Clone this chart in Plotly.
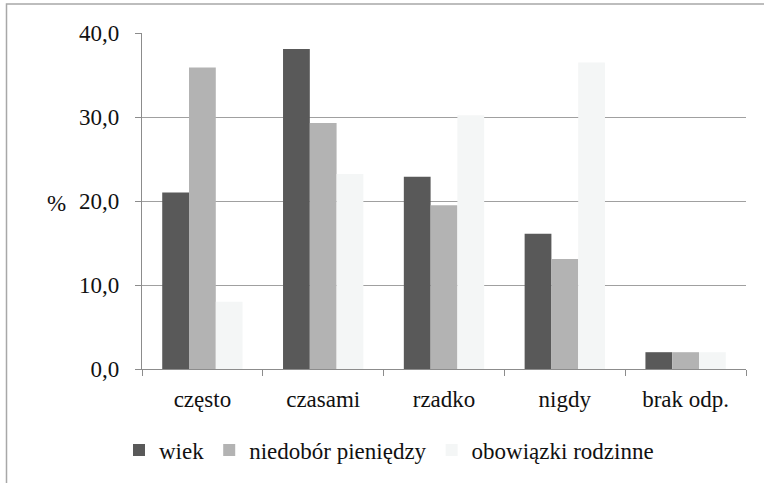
import plotly.graph_objects as go

categories = ["często", "czasami", "rzadko", "nigdy", "brak odp."]
series_names = ["wiek", "niedobór pieniędzy", "obowiązki rodzinne"]
wiek = [21.0, 38.1, 22.9, 16.1, 2.0]
niedobor = [35.9, 29.3, 19.5, 13.1, 2.0]
obowiazki = [8.0, 23.2, 30.2, 36.5, 2.0]
y_ticks = [0, 10, 20, 30, 40]

colors = ["#595959", "#b3b3b3", "#f4f6f6"]
FONT = "Times New Roman"
FS = 23

fig = go.Figure()
for name, vals, col in zip(series_names, [wiek, niedobor, obowiazki], colors):
    fig.add_trace(go.Bar(x=categories, y=vals, name=name,
                         marker=dict(color=col, line=dict(width=0))))

W, H = 764, 483
ml, mr, mt, mb = 142, 18, 33, 114
pw, ph = W - ml - mr, H - mt - mb

fig.update_layout(
    width=W, height=H,
    margin=dict(l=ml, r=mr, t=mt, b=mb, pad=0, autoexpand=False),
    paper_bgcolor="white", plot_bgcolor="white",
    barmode="group", bargap=0.335, bargroupgap=0,
    separators=", ",
    font=dict(family=FONT, size=FS, color="#111111"),
    showlegend=True,
    legend=dict(orientation="h", xref="container", x=119 / W, xanchor="left",
                yref="container", y=(H - 450) / H, yanchor="middle",
                font=dict(family=FONT, size=FS, color="#111111"),
                itemwidth=30, traceorder="normal", bgcolor="rgba(0,0,0,0)"),
    xaxis=dict(type="category", showgrid=False, showline=True, linecolor="#8c8c8c",
               linewidth=1.3, ticks="outside", tickson="boundaries", ticklen=6,
               tickcolor="#8c8c8c", tickwidth=1.3, ticklabelstandoff=9,
               tickfont=dict(family=FONT, size=FS, color="#111111")),
    yaxis=dict(range=[0, 40], tickvals=y_ticks, tickformat=".1f", showgrid=True,
               gridcolor="#a0a0a0", gridwidth=1.3, showline=True, linecolor="#8c8c8c",
               linewidth=1.3, ticks="outside", ticklen=6, tickcolor="#8c8c8c",
               tickwidth=1.3, zeroline=False, ticklabelstandoff=11,
               tickfont=dict(family=FONT, size=FS, color="#111111")),
)

fig.add_annotation(text="%", xref="paper", yref="paper",
                   x=(56 - ml) / pw, y=(H - mb - 203) / ph,
                   xanchor="center", yanchor="middle",
                   showarrow=False, font=dict(family=FONT, size=FS, color="#111111"))

fig.add_shape(type="rect", xref="paper", yref="paper",
              x0=(6.5 - ml) / pw, x1=(W + 20 - ml) / pw,
              y0=(H - mb - (H + 20)) / ph, y1=(H - mb - 4) / ph,
              line=dict(color="#a8a8a8", width=1.5), fillcolor="rgba(0,0,0,0)",
              layer="below")

fig.write_html("out.html", config={"displayModeBar": False},
               post_script="document.body.style.margin='0';")
